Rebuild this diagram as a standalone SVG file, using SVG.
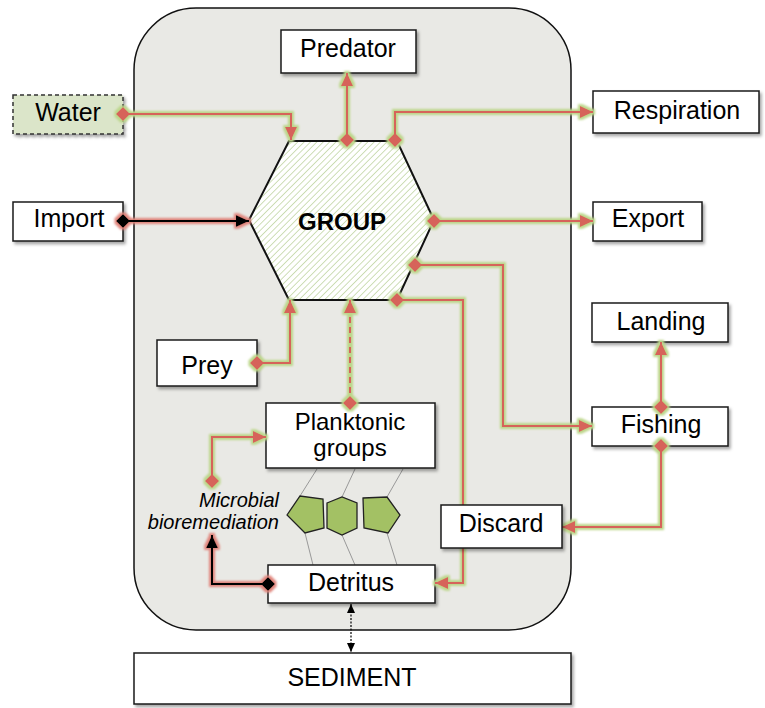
<svg xmlns="http://www.w3.org/2000/svg" width="765" height="708" viewBox="0 0 765 708">
<defs>
<style>
.box{fill:#fff;stroke:#1a1a1a;stroke-width:1.5;filter:url(#shadow)}
.t{font-family:"Liberation Sans",Arial,sans-serif;font-size:25px;fill:#000;text-anchor:middle}
.c{fill:none;stroke:#d6645a;stroke-width:2;marker-start:url(#dia);marker-end:url(#arr)}
.k{fill:none;stroke:#000;stroke-width:2;marker-start:url(#diak);marker-end:url(#arrk)}
.gl{filter:url(#glowG)}
.rl{filter:url(#glowR)}
.pl{fill:#a3c164;stroke:#222;stroke-width:1.3}
.gr{stroke:#999;stroke-width:1;fill:none}
.it{font-family:"Liberation Sans",Arial,sans-serif;font-size:20px;font-style:italic;text-anchor:end}
</style>
<pattern id="hatch" patternUnits="userSpaceOnUse" width="4.5" height="4.5" patternTransform="rotate(45)">
<rect width="4.5" height="4.5" fill="#fff"/>
<line x1="0" y1="0" x2="0" y2="4.5" stroke="#c9dbb0" stroke-width="1.8"/>
</pattern>
<filter id="shadow" x="-10%" y="-10%" width="130%" height="140%">
<feDropShadow dx="2" dy="2.5" stdDeviation="1.5" flood-color="#000" flood-opacity="0.35"/>
</filter>
<filter id="glowG" filterUnits="userSpaceOnUse" x="0" y="0" width="765" height="708">
<feMorphology in="SourceAlpha" operator="dilate" radius="1.6" result="d"/>
<feGaussianBlur in="d" stdDeviation="1" result="b"/>
<feFlood flood-color="#bcd68a"/>
<feComposite in2="b" operator="in" result="g"/>
<feMerge><feMergeNode in="g"/><feMergeNode in="SourceGraphic"/></feMerge>
</filter>
<filter id="glowR" filterUnits="userSpaceOnUse" x="0" y="0" width="765" height="708">
<feMorphology in="SourceAlpha" operator="dilate" radius="2" result="d"/>
<feGaussianBlur in="d" stdDeviation="1.2" result="b"/>
<feFlood flood-color="#e0857c"/>
<feComposite in2="b" operator="in" result="g"/>
<feMerge><feMergeNode in="g"/><feMergeNode in="SourceGraphic"/></feMerge>
</filter>
<marker id="arr" markerUnits="userSpaceOnUse" markerWidth="14" markerHeight="12" refX="13" refY="6" orient="auto">
<path d="M0,0 L13,6 L0,12 z" fill="#d6645a"/>
</marker>
<marker id="dia" markerUnits="userSpaceOnUse" markerWidth="14" markerHeight="14" refX="7" refY="7" orient="auto">
<path d="M0,7 L7,0 L14,7 L7,14 z" fill="#d6645a"/>
</marker>
<marker id="arrk" markerUnits="userSpaceOnUse" markerWidth="14" markerHeight="12" refX="13" refY="6" orient="auto">
<path d="M0,0 L13,6 L0,12 z" fill="#000"/>
</marker>
<marker id="diak" markerUnits="userSpaceOnUse" markerWidth="14" markerHeight="14" refX="7" refY="7" orient="auto">
<path d="M0,7 L7,0 L14,7 L7,14 z" fill="#000"/>
</marker>
<marker id="sa" markerUnits="userSpaceOnUse" markerWidth="10" markerHeight="8" refX="9" refY="4" orient="auto-start-reverse">
<path d="M0,0 L9,4 L0,8 z" fill="#000"/>
</marker>
</defs>

<rect width="765" height="708" fill="#fff"/>

<g id="system">
<rect x="134" y="8" width="437" height="622" rx="62" ry="62" fill="#e9e9e5" stroke="#111" stroke-width="1.5"/>
</g>

<g id="group">
<polygon points="289,141 397,141 434,220 397,300 289,300 249,220" fill="url(#hatch)" stroke="#111" stroke-width="2"/>
<text x="342" y="230" class="t" style="font-weight:bold;font-size:24px">GROUP</text>
</g>

<g id="predator"><rect class="box" x="281" y="30" width="135" height="43"/><text class="t" x="348" y="57">Predator</text></g>
<g id="water"><rect x="13" y="95" width="110" height="39" fill="#dbe5c9" stroke="#333" stroke-width="1.5" stroke-dasharray="4,3" filter="url(#shadow)"/><text class="t" x="68" y="121">Water</text></g>
<g id="import"><rect class="box" x="13" y="202" width="110" height="39"/><text class="t" x="69" y="227">Import</text></g>
<g id="respiration"><rect class="box" x="593" y="91" width="166" height="42"/><text class="t" x="677" y="119">Respiration</text></g>
<g id="export"><rect class="box" x="593" y="202" width="109" height="39"/><text class="t" x="648" y="227">Export</text></g>
<g id="prey"><rect class="box" x="157" y="340" width="100" height="46"/><text class="t" x="207" y="374">Prey</text></g>
<g id="landing"><rect class="box" x="592" y="303" width="136" height="39"/><text class="t" x="661" y="330">Landing</text></g>
<g id="fishing"><rect class="box" x="592" y="407" width="136" height="39"/><text class="t" x="661" y="433">Fishing</text></g>

<g id="microbial-links">
<polyline class="gr" points="317,469 300,496"/>
<polyline class="gr" points="355,469 342,497"/>
<polyline class="gr" points="403,469 387,497"/>
<polyline class="gr" points="305,533 313,565"/>
<polyline class="gr" points="342,535 355,565"/>
<polyline class="gr" points="387,533 397,565"/>
<polygon class="pl" points="287,515 300,496 323,499 324,528 305,533"/>
<polygon class="pl" points="327,503 342,497 357,503 357,528 342,535 327,528"/>
<polygon class="pl" points="363,498 387,497 400,515 388,533 364,528"/>
</g>

<g id="planktonic"><rect class="box" x="266" y="403" width="169" height="65"/><text class="t" x="350" y="430" style="font-size:24px">Planktonic</text><text class="t" x="350" y="456" style="font-size:24px">groups</text></g>
<g id="detritus"><rect class="box" x="268" y="565" width="167" height="38"/><text class="t" x="351" y="591">Detritus</text></g>
<g id="sediment"><rect class="box" x="134" y="653" width="437" height="51"/><text class="t" x="352" y="686">SEDIMENT</text></g>

<g id="bioremediation">
<text class="it" x="279" y="507">Microbial</text>
<text class="it" x="279" y="529">bioremediation</text>
</g>

<g id="connectors">
<g class="gl">
<path class="c" d="M123,114 H291 V140"/>
<path class="c" d="M347,140 V73"/>
<path class="c" d="M395,140 V112 H593"/>
<path class="c" d="M434,221 H593"/>
<path class="c" d="M415,265 H503 V426 H592"/>
<path class="c" d="M397,300 H463 V583 H435"/>
<path class="c" d="M257,363 H290 V300"/>
<path class="c" d="M350,403 V300" stroke-dasharray="6,4"/>
<path class="c" d="M212,481 V437 H266"/>
<path class="c" d="M661,407 V342"/>
<path class="c" d="M661,446 V527 H562"/>
</g>
<g class="rl">
<path class="k" d="M123,221 H249"/>
<path class="k" d="M268,584 H212 V535"/>
</g>
<path d="M351,604 V652" fill="none" stroke="#000" stroke-width="1.2" stroke-dasharray="2,1.5" marker-start="url(#sa)" marker-end="url(#sa)"/>
</g>

<g id="discard"><rect class="box" x="441" y="505" width="121" height="43"/><text class="t" x="501" y="532">Discard</text></g>
</svg>
